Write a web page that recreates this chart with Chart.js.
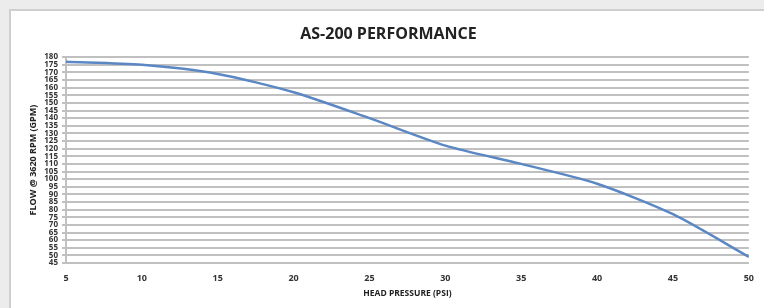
<!DOCTYPE html>
<html>
<head>
<meta charset="utf-8">
<script src="https://cdn.jsdelivr.net/npm/chart.js@4"></script>
<style>
  html, body { margin: 0; padding: 0; background: #ececec; }
  #wrap { position: relative; width: 764px; height: 308px; overflow: hidden; }
  #panel { position: absolute; left: 9px; top: 9px; width: 800px; height: 340px;
           background: #fff; border-left: 2px solid #cfcfcf; border-top: 2px solid #cfcfcf; }
  canvas { position: absolute; left: 0; top: 0; }
</style>
</head>
<body>
<div id="wrap">
  <div id="panel"></div>
  <canvas id="perfChart" width="764" height="308"></canvas>
</div>
<script>
// head pressure (PSI) and flow (GPM)
const pressure = [5, 10, 15, 20, 25, 30, 35, 40, 45, 50];
const flow = [177, 175, 169, 157, 140, 122, 110, 97, 77, 49];
const yMin = 45, yMax = 180, yStep = 5;
const xMin = 5, xMax = 50, xStep = 5;

const ctx = document.getElementById('perfChart').getContext('2d');
const perfChart = new Chart(ctx, {
    type: 'line',
    data: {
        datasets: [{
            label: 'Flow',
            data: pressure.map((p, i) => ({ x: p, y: flow[i] })),
            borderColor: '#5b87c4',
            borderWidth: 2.5,
            pointRadius: 0,
            tension: 0.25,
            fill: false
        }]
    },
    options: {
        responsive: false,
        animation: false,
        layout: { padding: { left: 24, right: 11, top: 0, bottom: 5 } },
        plugins: {
            legend: { display: false },
            tooltip: { enabled: false },
            title: {
                display: true,
                text: 'AS-200 PERFORMANCE',
                color: '#222',
                font: { family: 'Open Sans', size: 16, weight: 'bold' },
                padding: { top: 25, bottom: 13 }
            }
        },
        scales: {
            x: {
                type: 'linear',
                min: xMin,
                max: xMax,
                afterFit: s => { s.height = 40; },
                grid: { display: false, drawTicks: false },
                border: { display: false },
                ticks: {
                    stepSize: xStep,
                    padding: 10,
                    color: '#333',
                    font: { family: 'Open Sans', size: 9, weight: 'bold' }
                },
                title: {
                    display: true,
                    text: 'HEAD PRESSURE (PSI)',
                    color: '#222',
                    padding: { top: 2, bottom: 4 },
                    font: { family: 'Open Sans', size: 8.5, weight: 'bold' }
                }
            },
            y: {
                min: yMin,
                max: yMax,
                afterFit: s => { s.width = 42; },
                grid: { color: '#c0c0c0', lineWidth: 2, tickLength: 4 },
                border: { color: '#c0c0c0', width: 2 },
                ticks: {
                    stepSize: yStep,
                    autoSkip: false,
                    padding: 4,
                    color: '#333',
                    font: { family: 'Open Sans', size: 8, weight: 'bold' }
                },
                title: {
                    display: true,
                    text: 'FLOW @ 3620 RPM (GPM)',
                    color: '#222',
                    padding: { top: 4, bottom: 4 },
                    font: { family: 'Open Sans', size: 9, weight: 'bold' }
                }
            }
        }
    }
});
</script>
</body>
</html>
